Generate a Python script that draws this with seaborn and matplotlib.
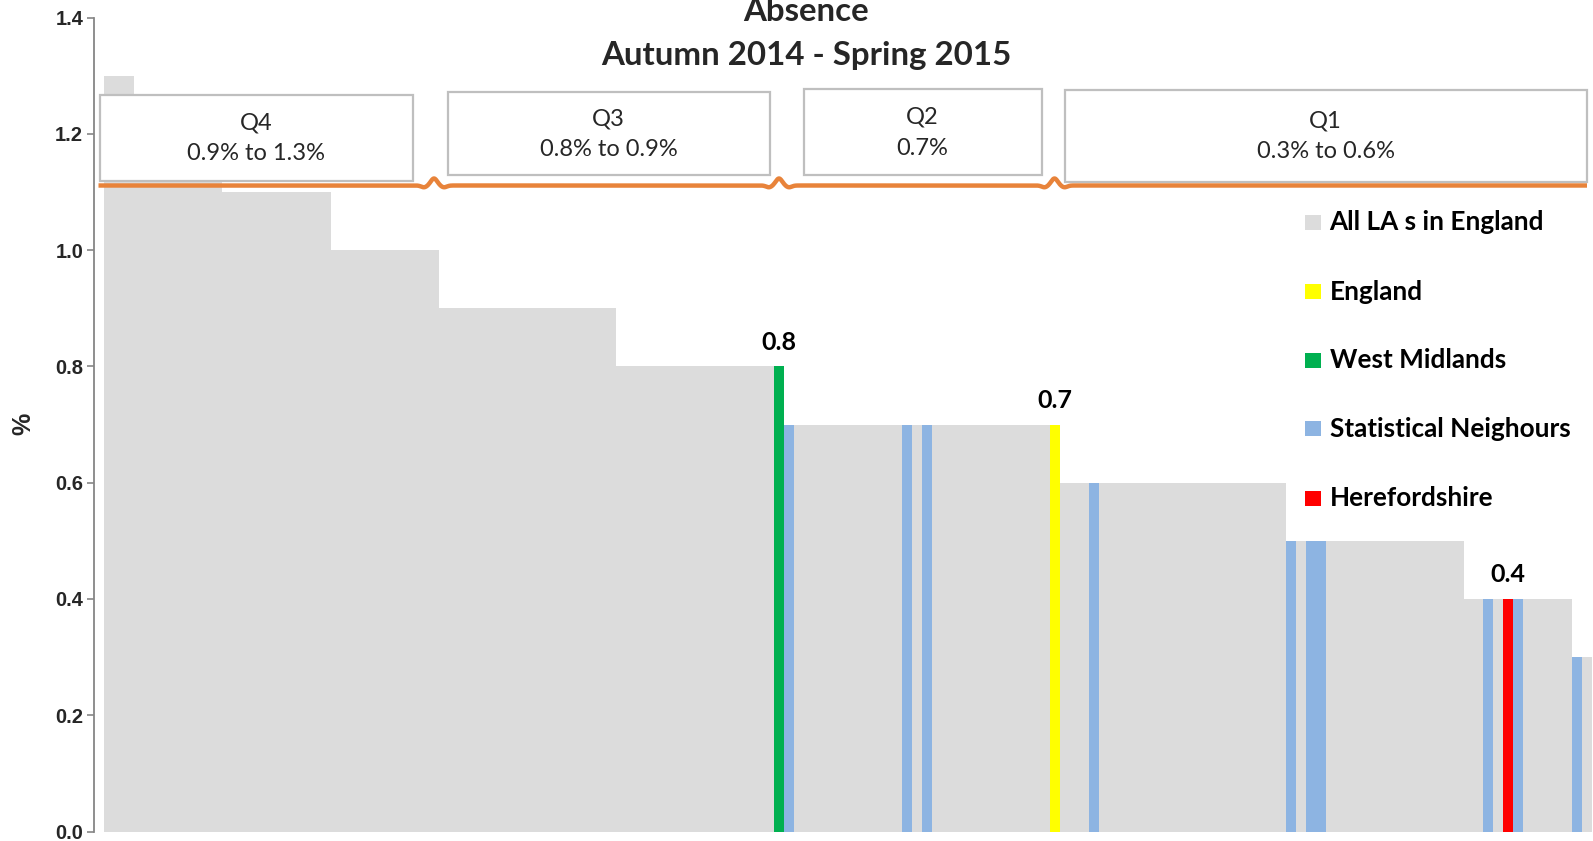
import matplotlib
matplotlib.use("Agg")
import matplotlib.pyplot as plt
from matplotlib.patches import Rectangle
from matplotlib.lines import Line2D
import numpy as np
import pandas as pd
import seaborn as sns

# Absence rate (%) for every local authority, ranked highest to lowest,
# with the England and West Midlands averages placed in rank order.
absence_pct = [
    1.3, 1.3, 1.3,
    1.2, 1.2, 1.2, 1.2, 1.2, 1.2, 1.2, 1.2, 1.2,
    1.1, 1.1, 1.1, 1.1, 1.1, 1.1, 1.1, 1.1, 1.1, 1.1, 1.1,
    1.0, 1.0, 1.0, 1.0, 1.0, 1.0, 1.0, 1.0, 1.0, 1.0, 1.0,
    0.9, 0.9, 0.9, 0.9, 0.9, 0.9, 0.9, 0.9, 0.9, 0.9, 0.9, 0.9, 0.9, 0.9, 0.9, 0.9, 0.9, 0.9,
    0.8, 0.8, 0.8, 0.8, 0.8, 0.8, 0.8, 0.8, 0.8, 0.8, 0.8, 0.8, 0.8, 0.8, 0.8, 0.8, 0.8,
    0.7, 0.7, 0.7, 0.7, 0.7, 0.7, 0.7, 0.7, 0.7, 0.7, 0.7, 0.7, 0.7, 0.7,
    0.7, 0.7, 0.7, 0.7, 0.7, 0.7, 0.7, 0.7, 0.7, 0.7, 0.7, 0.7, 0.7, 0.7,
    0.6, 0.6, 0.6, 0.6, 0.6, 0.6, 0.6, 0.6, 0.6, 0.6, 0.6, 0.6,
    0.6, 0.6, 0.6, 0.6, 0.6, 0.6, 0.6, 0.6, 0.6, 0.6, 0.6,
    0.5, 0.5, 0.5, 0.5, 0.5, 0.5, 0.5, 0.5, 0.5, 0.5, 0.5, 0.5, 0.5, 0.5, 0.5, 0.5, 0.5, 0.5,
    0.4, 0.4, 0.4, 0.4, 0.4, 0.4, 0.4, 0.4, 0.4, 0.4, 0.4,
    0.3, 0.3,
]

# Rank positions of the highlighted bars
west_midlands_rank = 68
england_rank = 96
herefordshire_rank = 142
neighbour_ranks = [69, 81, 83, 100, 120, 122, 123, 140, 143, 149]

group_names = ["All LA s in England", "England", "West Midlands",
               "Statistical Neighours", "Herefordshire"]
group_colors = ["#DCDCDC", "#FFFF00", "#00B050", "#8DB4E2", "#FF0000"]

quartile_names = ["Q4", "Q3", "Q2", "Q1"]
quartile_ranges = ["0.9% to 1.3%", "0.8% to 0.9%", "0.7%", "0.3% to 0.6%"]

y_ticks = [0.0, 0.2, 0.4, 0.6, 0.8, 1.0, 1.2, 1.4]

# ---------------------------------------------------------------------------
groups = [group_names[0]] * len(absence_pct)
for r in neighbour_ranks:
    groups[r] = group_names[3]
groups[west_midlands_rank] = group_names[2]
groups[england_rank] = group_names[1]
groups[herefordshire_rank] = group_names[4]

df = pd.DataFrame({"rank": np.arange(len(absence_pct)),
                   "value": absence_pct,
                   "group": groups})
palette = dict(zip(group_names, group_colors))

sns.set_theme(style="white")
plt.rcParams["font.family"] = ["Lato", "DejaVu Sans"]

W, H = 1593, 841
fig = plt.figure(figsize=(W / 100, H / 100), dpi=100)

# Plot area in pixels
ax_left_px, ax_right_px = 94.3, 1593.0
y0_px, y14_px = 831.5, 17.5
ax = fig.add_axes([ax_left_px / W, (H - y0_px) / H,
                   (ax_right_px - ax_left_px) / W, (y0_px - y14_px) / H])

sns.barplot(data=df, x="rank", y="value", hue="group", palette=palette,
            hue_order=group_names, dodge=False, width=1.0, saturation=1,
            legend=False, linewidth=0, edgecolor="none", ax=ax)
for p in ax.patches:
    p.set_antialiased(False)

n = len(absence_pct)
bar_px = (1591.7 - 104.0) / n
xmin = -0.5 - (104.0 - ax_left_px) / bar_px
xmax = xmin + (ax_right_px - ax_left_px) / bar_px
ax.set_xlim(xmin, xmax)
ax.set_ylim(0, 1.4)

ax.set_xticks([])
ax.set_xlabel("")
ax.set_ylabel("")
ax.set_yticks(y_ticks)
ax.set_yticklabels([f"{v:.1f}" for v in y_ticks],
                   fontfamily="Liberation Sans", fontweight="bold", fontsize=14.5)
ax.tick_params(axis="y", direction="out", length=5, width=1.2,
               color="#868686", pad=3, left=True)
for side in ["top", "right", "bottom"]:
    ax.spines[side].set_visible(False)
ax.spines["left"].set_color("#868686")
ax.spines["left"].set_linewidth(1.3)

# Value labels over the highlighted bars
for r in [west_midlands_rank, england_rank, herefordshire_rank]:
    ax.text(r, absence_pct[r] + 0.022, f"{absence_pct[r]:.1f}", ha="center",
            va="bottom", fontsize=18, fontweight="bold", color="black")

# ---------------------------------------------------------------------------
def fx(px):
    return px / W


def fy(py):
    return 1 - py / H


# Titles and axis label
fig.text(fx(806), fy(21), "Absence", ha="center", va="baseline",
         fontsize=23.8, fontweight="bold")
fig.text(fx(806), fy(65), "Autumn 2014 - Spring 2015", ha="center",
         va="baseline", fontsize=23.8, fontweight="bold")
fig.text(fx(23), fy(424), "%", rotation=90, ha="center", va="center",
         fontsize=18, fontweight="bold", fontfamily="Liberation Sans")

# Quartile boxes (left, right, top, bottom in pixels)
box_px = [(99.5, 413.0, 95.0, 181.0),
          (447.5, 769.5, 92.5, 175.0),
          (803.5, 1041.5, 89.5, 175.0),
          (1064.5, 1587.0, 89.5, 182.0)]
for (l, r, t, b), name, rng in zip(box_px, quartile_names, quartile_ranges):
    fig.add_artist(Rectangle((fx(l), fy(b)), fx(r) - fx(l), fy(t) - fy(b),
                             transform=fig.transFigure, facecolor="white",
                             edgecolor="#BFBFBF", linewidth=1.6, zorder=5))
    cx = (l + r) / 2
    mid = (t + b) / 2
    fig.text(fx(cx), fy(mid - 15), name, ha="center", va="center",
             fontsize=17, color="#262626", zorder=6)
    fig.text(fx(cx), fy(mid + 16), rng, ha="center", va="center",
             fontsize=17, color="#262626", zorder=6)

# Orange divider with small kinks between the quartile boxes
xs = np.linspace(98.5, 1587.0, 3000)
ys = np.full_like(xs, 185.5)
for kink in [434.0, 779.0, 1054.5]:
    d = xs - kink
    ys -= 7.0 * np.exp(-(d / 4.5) ** 2)
    ys += 1.8 * np.exp(-((np.abs(d) - 10.0) / 4.0) ** 2)
fig.add_artist(Line2D(fx(xs), fy(ys), transform=fig.transFigure,
                      color="#E8833A", linewidth=3.2, zorder=7,
                      solid_capstyle="butt"))

# Legend
legend_rows = [222.3, 291.5, 360.0, 428.8, 498.0]
for name, color, ry in zip(group_names, group_colors, legend_rows):
    fig.add_artist(Rectangle((fx(1305.0), fy(ry + 7.5)), fx(15.5), 15.0 / H,
                             transform=fig.transFigure, facecolor=color,
                             edgecolor="none", zorder=8))
    fig.text(fx(1329.5), fy(ry), name, ha="left", va="center",
             fontsize=18.8, fontweight="bold", color="black", zorder=8)

fig.savefig("out.png", dpi=100)
